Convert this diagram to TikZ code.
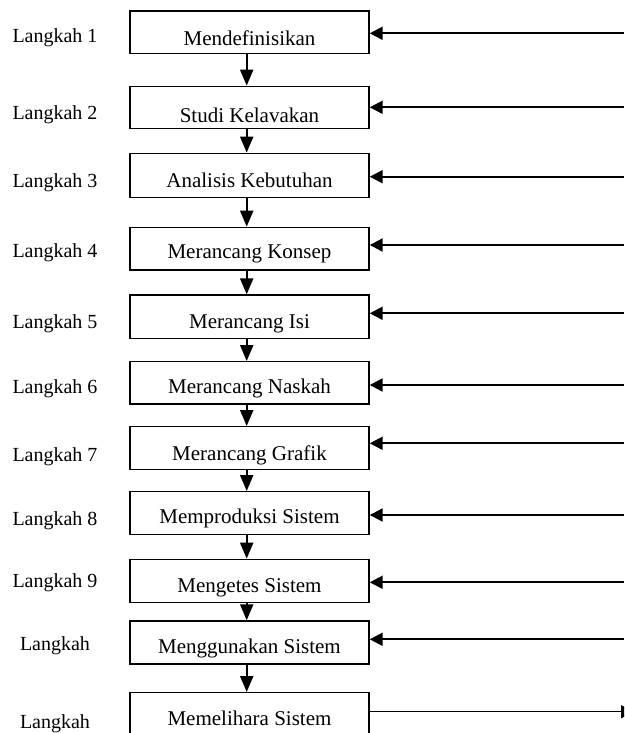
\documentclass[tikz,border=0pt]{standalone}
\usepackage{fontspec}
\setmainfont{Liberation Serif}
\usetikzlibrary{arrows.meta}
\tikzset{
  stepbox/.style={draw, line width=1.4pt, minimum width=239pt, minimum height=43pt, inner sep=0pt},
  btxt/.style={anchor=base, inner sep=0pt, font=\fontsize{21}{24}\selectfont},
  ltxt/.style={anchor=base, inner sep=0pt, font=\fontsize{20}{23}\selectfont},
  varrow/.style={line width=2.2pt, -{Triangle[width=13pt,length=16pt]}},
  harrow/.style={line width=2.2pt, -{Triangle[width=13pt,length=13pt]}},
  oarrow/.style={line width=1.5pt, -{Triangle[width=13pt,length=13pt]}}
}
\begin{document}
\begin{tikzpicture}[x=1pt,y=-1pt]
\clip (0,0) rectangle (624,733);
\fill[white] (0,0) rectangle (624,733);
% boxes
\node[stepbox, minimum height=42.3pt] (b1)  at (249.5,32.2) {};
\node[stepbox, minimum height=42pt]   (b2)  at (249.5,107.3) {};
\node[stepbox, minimum height=44pt]   (b3)  at (249.5,175.3) {};
\node[stepbox, minimum height=42.7pt] (b4)  at (249.5,248.7) {};
\node[stepbox, minimum height=43.3pt] (b5)  at (249.5,316.7) {};
\node[stepbox, minimum height=42.3pt] (b6)  at (249.5,382.9) {};
\node[stepbox, minimum height=42.6pt] (b7)  at (249.5,448) {};
\node[stepbox, minimum height=42.6pt] (b8)  at (249.5,513) {};
\node[stepbox, minimum height=43pt]   (b9)  at (249.5,580.8) {};
\node[stepbox, minimum height=43pt]   (b10) at (249.5,642.5) {};
\node[stepbox, minimum height=43pt]   (b11) at (249.5,714.2) {};
% box texts
\node[btxt] (t1)  at (249.5,46) {Mendefinisikan};
\node[btxt] (t2)  at (249.5,122.5) {Studi Kelavakan};
\node[btxt] (t3)  at (249.5,187.5) {Analisis Kebutuhan};
\node[btxt] (t4)  at (249.5,258.5) {Merancang Konsep};
\node[btxt] (t5)  at (249.5,328.5) {Merancang Isi};
\node[btxt] (t6)  at (249.5,393.5) {Merancang Naskah};
\node[btxt] (t7)  at (249.5,460.5) {Merancang Grafik};
\node[btxt] (t8)  at (249.5,523.5) {Memproduksi Sistem};
\node[btxt] (t9)  at (249.5,592.5) {Mengetes Sistem};
\node[btxt] (t10) at (249.5,653.5) {Menggunakan Sistem};
\node[btxt] (t11) at (249.5,725) {Memelihara Sistem};
% labels
\node[ltxt] (l1)  at (55,43) {Langkah 1};
\node[ltxt] (l2)  at (55,120) {Langkah 2};
\node[ltxt] (l3)  at (55,187) {Langkah 3};
\node[ltxt] (l4)  at (55,257) {Langkah 4};
\node[ltxt] (l5)  at (55,328) {Langkah 5};
\node[ltxt] (l6)  at (55,393) {Langkah 6};
\node[ltxt] (l7)  at (55,461) {Langkah 7};
\node[ltxt] (l8)  at (55,525) {Langkah 8};
\node[ltxt] (l9)  at (55,587) {Langkah 9};
\node[ltxt] (l10) at (55,650) {Langkah};
\node[ltxt] (l11) at (55,728) {Langkah};
% vertical arrows
\foreach \a/\b in {b1/b2,b2/b3,b3/b4,b4/b5,b5/b6,b6/b7,b7/b8,b8/b9,b9/b10,b10/b11}
  \draw[varrow] ([xshift=-2.8pt]\a.south) -- ([xshift=-2.8pt]\b.north);
% right-side feedback arrows
\coordinate (r1)  at (624,33.3);
\coordinate (r2)  at (624,107.3);
\coordinate (r3)  at (624,176.7);
\coordinate (r4)  at (624,245);
\coordinate (r5)  at (624,313.3);
\coordinate (r6)  at (624,385);
\coordinate (r7)  at (624,443.3);
\coordinate (r8)  at (624,515);
\coordinate (r9)  at (624,582.3);
\coordinate (r10) at (624,639.3);
\foreach \i in {1,...,10}
  \draw[harrow] (r\i) -- (r\i -| b\i.east);
\coordinate (r11) at (634,711.7);
\draw[oarrow] (r11 -| b11.east) -- (r11);
\end{tikzpicture}
\end{document}
